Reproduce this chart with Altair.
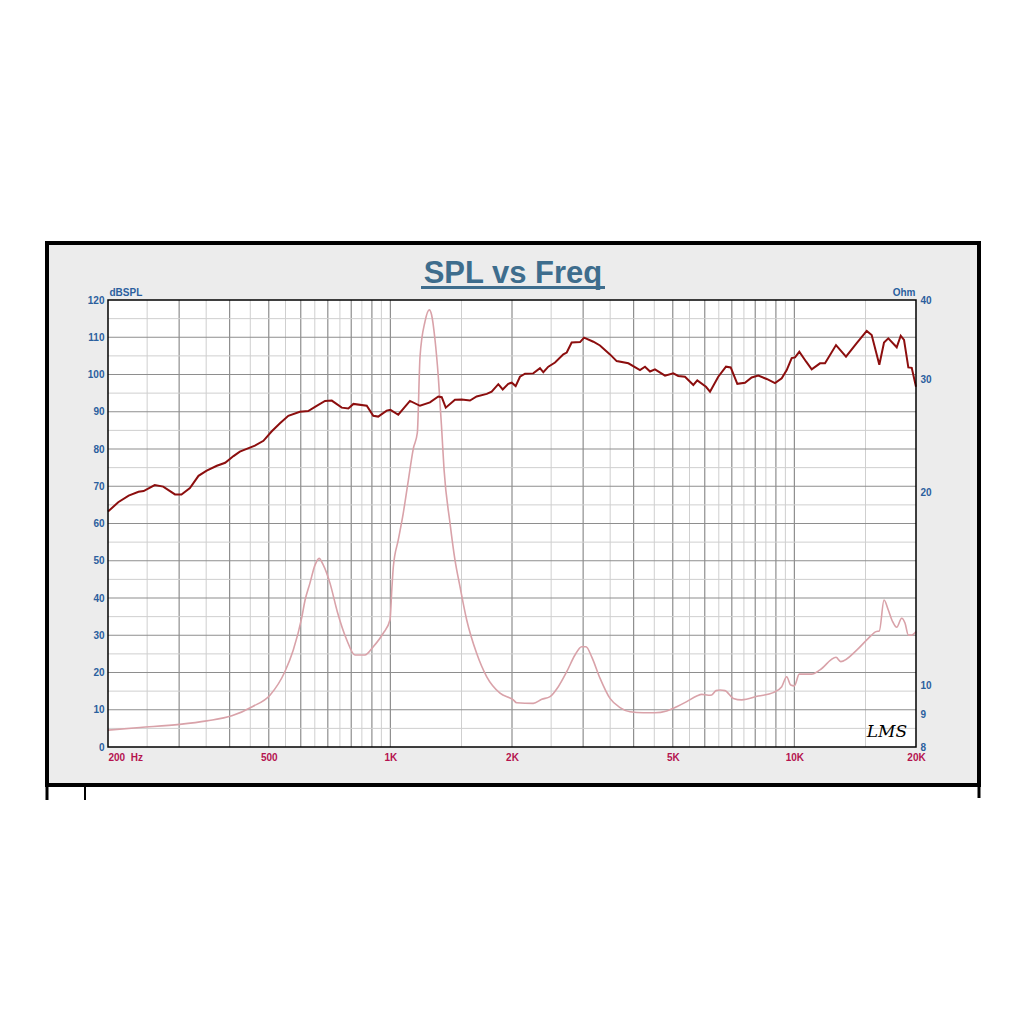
import altair as alt
import pandas as pd

# ---------------- data ----------------
spl_freq = [200, 212, 225, 238, 245, 261, 274, 293, 304, 319, 335, 351, 372, 390, 409, 424, 462, 485, 508, 533,
            559, 597, 626, 657, 689, 716, 758, 787, 810, 874, 907, 933, 979, 1000, 1046, 1118, 1184, 1253, 1314,
            1340, 1371, 1445, 1502, 1574, 1635, 1732, 1781, 1850, 1897, 1958, 1997, 2042, 2093, 2154, 2258, 2346,
            2391, 2460, 2556, 2680, 2732, 2810, 2948, 3016, 3180, 3302, 3496, 3632, 3882, 4148, 4268, 4392, 4518,
            4784, 5014, 5158, 5360, 5622, 5750, 6042, 6182, 6480, 6772, 6956, 7224, 7546, 7840, 8142, 8540, 8954,
            9304, 9572, 9848, 10036, 10284, 10684, 11038, 11572, 11908, 12678, 13420, 14264, 15102, 15536, 16228,
            16668, 17080, 17918, 18332, 18680, 19144, 19520, 20000]
spl_db = [63.2, 65.7, 67.5, 68.5, 68.7, 70.3, 69.9, 67.8, 67.8, 69.5, 72.8, 74.2, 75.5, 76.3, 78.1, 79.3, 80.9,
          82.2, 84.7, 86.9, 88.9, 90.0, 90.2, 91.6, 92.9, 93.0, 91.1, 90.9, 92.1, 91.6, 88.9, 88.7, 90.3, 90.5,
          89.2, 92.9, 91.6, 92.5, 94.1, 93.9, 91.1, 93.2, 93.3, 93.0, 94.1, 94.8, 95.4, 97.4, 96.0, 97.5, 97.8,
          96.9, 99.4, 100.2, 100.3, 101.7, 100.6, 102.1, 103.2, 105.4, 105.9, 108.6, 108.7, 109.9, 108.8, 107.8,
          105.4, 103.6, 103.0, 101.2, 102.1, 100.8, 101.4, 99.7, 100.3, 99.6, 99.4, 97.2, 98.4, 96.7, 95.4, 99.4,
          102.1, 101.9, 97.5, 97.8, 99.2, 99.7, 98.8, 97.7, 99.0, 101.2, 104.4, 104.6, 106.1, 103.5, 101.4, 103.0,
          103.0, 107.9, 104.8, 108.4, 111.7, 110.6, 102.6, 108.6, 109.7, 107.3, 110.4, 109.3, 101.9, 101.8, 96.7]

imp_freq = [200, 240, 301, 351, 405, 455, 504, 548, 575, 603, 615, 632, 651, 666, 682, 709, 739, 780, 817, 865,
            907, 960, 998, 1008, 1017, 1046, 1076, 1108, 1140, 1166, 1184, 1218, 1248, 1265, 1290, 1314, 1340,
            1358, 1405, 1445, 1487, 1545, 1635, 1732, 1868, 2015, 2054, 2258, 2369, 2484, 2604, 2732, 2864, 2975,
            3049, 3150, 3302, 3496, 3702, 3919, 4227, 4518, 4830, 5114, 5414, 5732, 5896, 6124, 6242, 6398, 6546,
            6734, 7060, 7406, 8142, 8866, 9304, 9572, 9792, 9996, 10284, 11038, 11572, 12678, 13020, 14264, 15240,
            15922, 16228, 16668, 17080, 17510, 17918, 18434, 18784, 19144, 19520, 20000]
imp_ohm = [8.50, 8.58, 8.68, 8.79, 8.95, 9.25, 9.65, 10.49, 11.34, 12.72, 13.58, 14.42, 15.41, 15.78, 15.41,
           14.42, 13.02, 11.76, 11.14, 11.14, 11.48, 12.05, 12.65, 14.08, 15.31, 16.86, 18.56, 20.92, 23.45, 24.8,
           32.6, 37.0, 38.6, 37.9, 34.6, 30.35, 25.05, 21.7, 17.9, 15.69, 14.25, 12.64, 11.21, 10.30, 9.71, 9.48,
           9.38, 9.36, 9.50, 9.59, 9.94, 10.49, 11.14, 11.48, 11.48, 11.07, 10.25, 9.53, 9.22, 9.08, 9.05, 9.05,
           9.11, 9.25, 9.42, 9.61, 9.67, 9.64, 9.65, 9.80, 9.82, 9.80, 9.53, 9.48, 9.61, 9.73, 9.94, 10.30, 10.0,
           9.97, 10.40, 10.40, 10.56, 11.05, 10.88, 11.34, 11.83, 12.12, 12.15, 13.58, 13.10, 12.56, 12.31, 12.72,
           12.50, 11.97, 11.97, 12.12]

# grid and tick values
grid_f_light = [250, 350, 450, 550, 650, 750, 850, 950, 1500, 2500, 3500, 4500, 5500, 6500, 7500, 8500, 9500, 15000]
grid_f_dark = [300, 400, 500, 600, 700, 800, 900, 1000, 2000, 3000, 4000, 5000, 6000, 7000, 8000, 9000, 10000]
grid_db_light = [5, 15, 25, 35, 45, 55, 65, 75, 85, 95, 105, 115]
grid_db_dark = [10, 20, 30, 40, 50, 60, 70, 80, 90, 100, 110]
x_ticks = [200, 500, 1000, 2000, 5000, 10000, 20000]
db_ticks = [0, 10, 20, 30, 40, 50, 60, 70, 80, 90, 100, 110, 120]
ohm_ticks = [8, 9, 10, 20, 30, 40]

title_text = "SPL vs Freq"
sig_text = "LMS"

# ---------------- style ----------------
W, H = 808, 447
FONT = "Liberation Sans"
BLUE = "#2b5f9e"
XLBL = "#b5134f"

xscale = alt.Scale(type="log", domain=[200, 20000], nice=False)
dbscale = alt.Scale(domain=[0, 120], nice=False, zero=False)
ohmscale = alt.Scale(type="log", domain=[8, 40], nice=False)

NB = "\u00a0"
x_axis = alt.Axis(values=x_ticks, grid=False, domain=False, ticks=False, title=None,
                  labelExpr=f"datum.value == 200 ? '200{NB}{NB}Hz' : (datum.value >= 1000 ? (datum.value/1000) + 'K' : datum.value)",
                  labelColor=XLBL, labelFont=FONT, labelFontWeight="bold", labelFontSize=10,
                  labelPadding=5, labelFlush=False, labelOverlap=False,
                  labelAlign={"condition": {"test": "datum.value <= 200", "value": "left"}, "value": "center"},
                  zindex=1)

one = pd.DataFrame({"k": [0]})

panel = alt.Chart(one).mark_rect(fill="#ececec", stroke="black", strokeWidth=4).encode(
    x=alt.value(-61), x2=alt.value(871), y=alt.value(-57), y2=alt.value(485))
edge_lines = alt.layer(
    alt.Chart(one).mark_rule(color="black", strokeWidth=3).encode(
        x=alt.value(-61), y=alt.value(485), y2=alt.value(500)),
    alt.Chart(one).mark_rule(color="black", strokeWidth=3).encode(
        x=alt.value(871), y=alt.value(485), y2=alt.value(498)),
    alt.Chart(one).mark_rule(color="black", strokeWidth=2).encode(
        x=alt.value(-23), y=alt.value(487), y2=alt.value(500)),
)
plot_bg = alt.Chart(one).mark_rect(fill="white").encode(
    x=alt.value(0), x2=alt.value(W), y=alt.value(0), y2=alt.value(H))

vg_light = alt.Chart(pd.DataFrame({"f": grid_f_light})).mark_rule(color="#cfcfcf", strokeWidth=1).encode(
    x=alt.X("f:Q", scale=xscale, axis=x_axis))
vg_dark = alt.Chart(pd.DataFrame({"f": grid_f_dark})).mark_rule(color="#8e8e8e", strokeWidth=1.2).encode(
    x=alt.X("f:Q", scale=xscale, axis=x_axis))
hg_light = alt.Chart(pd.DataFrame({"d": grid_db_light})).mark_rule(color="#cfcfcf", strokeWidth=1).encode(
    y=alt.Y("d:Q", scale=dbscale, axis=None))
hg_dark = alt.Chart(pd.DataFrame({"d": grid_db_dark})).mark_rule(color="#8e8e8e", strokeWidth=1.2).encode(
    y=alt.Y("d:Q", scale=dbscale, axis=None))

imp_df = pd.DataFrame({"f": imp_freq, "ohm": imp_ohm})
imp_line = alt.Chart(imp_df).mark_line(color="#d9a2a9", strokeWidth=1.6, interpolate="monotone").encode(
    x=alt.X("f:Q", scale=xscale, axis=x_axis),
    y=alt.Y("ohm:Q", scale=ohmscale,
            axis=alt.Axis(orient="right", values=ohm_ticks, grid=False, domain=False, ticks=False,
                          labelColor=BLUE, labelFont=FONT, labelFontWeight="bold", labelFontSize=10,
                          labelPadding=4, labelOverlap=False, labelFlush=False,
                          title="Ohm", titleAngle=0, titleAlign="right", titleBaseline="alphabetic",
                          titleX=-1, titleY=-5, titleColor=BLUE, titleFont=FONT, titleFontSize=10,
                          titleFontWeight="bold", zindex=1)))

spl_df = pd.DataFrame({"f": spl_freq, "db": spl_db})
spl_line = alt.Chart(spl_df).mark_line(color="#8c0e0e", strokeWidth=2).encode(
    x=alt.X("f:Q", scale=xscale, axis=x_axis),
    y=alt.Y("db:Q", scale=dbscale,
            axis=alt.Axis(orient="left", values=db_ticks, grid=False, domain=False, ticks=False,
                          labelColor=BLUE, labelFont=FONT, labelFontWeight="bold", labelFontSize=10,
                          labelPadding=4, labelOverlap=False, labelFlush=False,
                          title="dBSPL", titleAngle=0, titleAlign="left", titleBaseline="alphabetic",
                          titleX=1, titleY=-5, titleColor=BLUE, titleFont=FONT, titleFontSize=10,
                          titleFontWeight="bold", zindex=1)))

border = alt.Chart(one).mark_rect(fill=None, stroke="black", strokeWidth=1.5).encode(
    x=alt.value(0), x2=alt.value(W), y=alt.value(0), y2=alt.value(H))

title = alt.Chart(one).mark_text(font=FONT, fontSize=31, fontWeight="bold", color="#3e6d8d",
                                 align="center", baseline="alphabetic").encode(
    x=alt.value(405), y=alt.value(-17), text=alt.value(title_text))
underline = alt.Chart(one).mark_rule(color="#3e6d8d", strokeWidth=3).encode(
    x=alt.value(313), x2=alt.value(497), y=alt.value(-12.5))
sig = alt.Chart(one).mark_text(font="DejaVu Serif", fontSize=17, fontStyle="italic", color="black",
                               align="center", baseline="middle").encode(
    x=alt.value(779), y=alt.value(432), text=alt.value(sig_text))

chart = alt.layer(
    panel, edge_lines, plot_bg, vg_light, vg_dark, hg_light, hg_dark, imp_line, spl_line, border,
    title, underline, sig
).resolve_scale(y="independent").properties(
    width=W, height=H,
    autosize=alt.AutoSizeParams(type="none"),
    padding={"left": 100, "top": 292, "right": 100, "bottom": 250},
    background="white",
).configure_view(stroke=None)

chart.save("out.html", embed_options={"renderer": "svg", "actions": False})
